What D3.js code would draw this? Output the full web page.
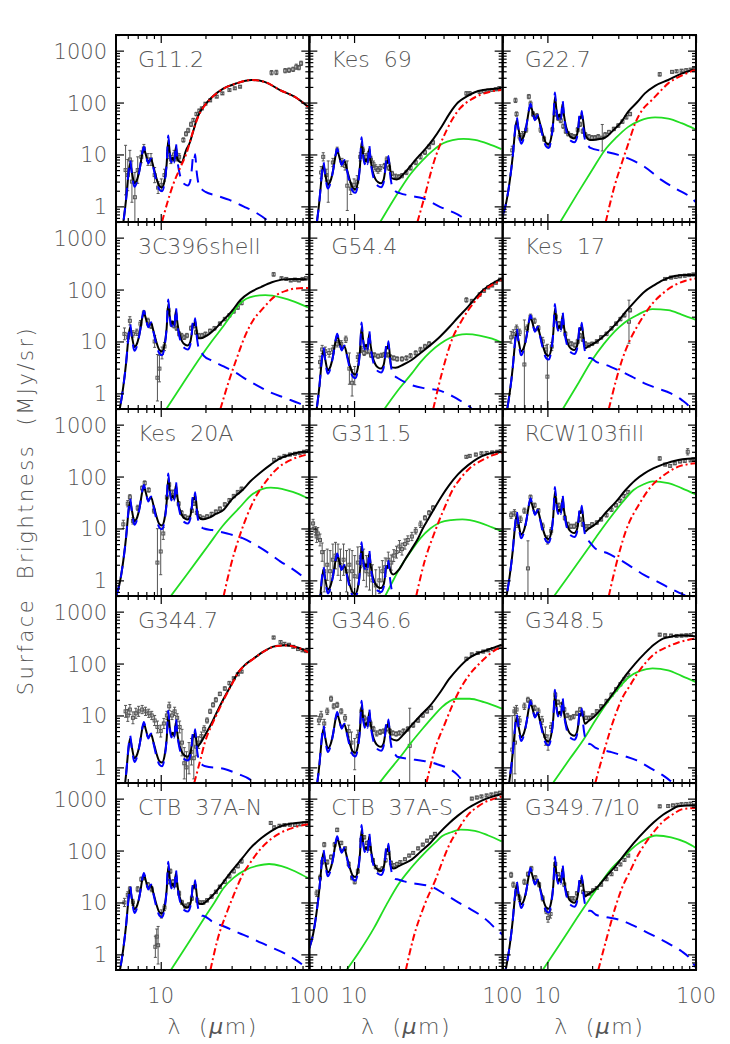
<!DOCTYPE html>
<meta charset="utf-8">
<script src="https://d3js.org/d3.v7.min.js"></script>
<style>
  body { margin: 0; background: #fff; }
  text { font-family: "DejaVu Sans", sans-serif; fill: #555; font-weight: 300; }
</style>
<div id="chart"></div>
<script>
// panel names, row by row
const panelNames = ["G11.2", "Kes  69", "G22.7", "3C396shell", "G54.4", "Kes  17",
  "Kes  20A", "G311.5", "RCW103fill", "G344.7", "G346.6", "G348.5",
  "CTB  37A-N", "CTB  37A-S", "G349.7/10"];

// shared PAH feature shape (relative to the 7.7 um peak)
const pahLam = [5.0, 5.3, 5.6, 5.85, 6.05, 6.22, 6.4, 6.65, 6.95, 7.25, 7.5, 7.7, 7.95, 8.25, 8.6, 8.95,
  9.35, 9.8, 10.2, 10.6, 10.95, 11.25, 11.5, 11.8, 12.05, 12.35, 12.65, 12.95, 13.35, 13.9, 14.5,
  15.2, 15.8, 16.2, 16.45, 16.75, 17.05, 17.4, 17.8, 18.3, 19.0];
// blue component
const pahRel = [0.007, 0.013, 0.035, 0.10, 0.30, 0.55, 0.30, 0.17, 0.22, 0.40, 0.75, 1.00, 0.70, 0.48, 0.60, 0.38,
  0.22, 0.15, 0.14, 0.20, 0.45, 1.65, 0.75, 0.50, 0.62, 0.50, 1.15, 0.55, 0.32, 0.22, 0.19,
  0.18, 0.22, 0.38, 0.60, 0.52, 0.72, 0.36, 0.22, 0.17, 0.15];
// total model over the same features (slightly flatter: lower peaks, higher troughs)
const pahTot = [0.007, 0.013, 0.035, 0.10, 0.28, 0.48, 0.32, 0.20, 0.24, 0.40, 0.72, 0.92, 0.70, 0.50, 0.58, 0.40,
  0.25, 0.175, 0.165, 0.22, 0.45, 1.35, 0.78, 0.55, 0.62, 0.53, 1.00, 0.58, 0.36, 0.26, 0.225,
  0.215, 0.25, 0.38, 0.56, 0.52, 0.64, 0.38, 0.26, 0.21, 0.19];

// 7.7 um peak level of each panel (MJy/sr)
const pahScale = [14, 13, 95, 39, 14, 32, 69, 3.3, 38, 7.5, 11.6, 19, 37, 188, 46];
// where the total model leaves the PAH shape (um)
const blackCut = [13.3, 17.2, 17.2, 17.2, 17.2, 17.2, 17.2, 17.1, 17.2, 17.2, 17.2, 17.2, 17.2, 17.2, 17.2];

// total model (black) beyond the cut: [lambda, value]
const blackTail = [
  [[13.8,7],[14.8,12],[15.7,17],[16.6,29],[17.4,46],[18.5,68],[19.8,89],[22,125],[26.5,187],[32,232],[40.9,272],[50,250],[63.5,174],[80,128],[98,83]],
  [[17.9,3.5],[19.4,3.3],[22,4.5],[26.4,8.4],[30,12.5],[34.2,20],[39,35],[44,62],[50,100],[57,130],[65,158],[74,174],[85,183],[98,187]],
  [[17.9,25],[18.7,20],[19.3,19],[21.5,19.5],[24.4,21],[28,30],[31,40],[35,67],[40,100],[45.3,150],[53,210],[65,272],[80,360],[98,437]],
  [[17.8,11.5],[18.6,11.5],[20,12.5],[23,17],[26.5,26],[30,38],[34.4,63],[40,88],[47.6,113],[56,138],[67.6,157],[80,160],[96,157]],
  [[17.8,3.2],[19,3.1],[21.5,3.6],[24.4,4.4],[28,6],[32.6,8.5],[38,12.5],[43.8,19],[50,29],[58.6,47],[66,70],[74,98],[85,130],[98.6,164]],
  [[17.9,7.4],[18.8,8],[21,9.5],[25,14.3],[29,22],[33.6,37],[39,60],[45,91],[52,120],[60,152],[72,182],[85,190],[100,190]],
  [[17.8,17],[19.2,15],[21,16],[23.5,19],[26.5,23],[30,36],[35.5,55],[40,80],[47.6,124],[55,170],[63.6,224],[75,265],[85,290],[98,302]],
  [[17.6,1.5],[18.3,1.3],[20,1.6],[22,2.5],[24.4,4],[27,6.5],[29,10],[31.5,15],[34.6,24],[38.5,40],[43.8,69],[50,110],[58.6,166],[68,225],[78.4,268],[88,292],[98.6,302]],
  [[17.9,8.7],[18.8,9.8],[21,12],[25,21],[29,33],[33.6,55],[39,85],[45,115],[52,145],[60,172],[76,209],[88,220],[100,224]],
  [[17.6,2.5],[18.6,3.0],[19.8,4.1],[22.2,7.5],[24,12],[26.5,21],[30,40],[33.4,69],[37,95],[42,124],[50,175],[56.5,209],[64,222],[71,224],[80,210],[90,188],[98,166]],
  [[17.7,3.6],[19.3,3.3],[21.5,4.3],[24.4,6.5],[28,10],[32.6,15.6],[38,28],[43.8,51],[50,80],[58.6,124],[68,158],[78,180],[88,205],[98.6,231]],
  [[17.9,6.9],[18.6,7.5],[21,10],[25,18],[29,32],[33.6,59],[39,100],[45,155],[52,230],[60,302],[68,330],[76,347],[88,345],[100,331]],
  [[17.8,9.8],[18.8,9.3],[21,11.5],[23.5,16],[26.5,25],[30,40],[35.5,72],[40,110],[47.6,174],[55,235],[63.6,293],[75,330],[85,345],[98,355]],
  [[17.7,49],[18.4,45],[20,50],[22,57],[24.4,67],[28,95],[32.6,140],[37,210],[43.8,340],[50,470],[58.6,660],[68,840],[78,1000],[88,1120],[98.6,1230]],
  [[17.9,13],[18.6,14],[21,18],[25,32],[29,52],[33.6,89],[39,150],[45,234],[52,350],[60,490],[68,610],[76,710],[88,740],[100,740]]
];

// small-grain / PAH continuum (blue dashed) beyond 19 um
const blueTail = [
  [[20,1.9],[24,1.6],[29,1.33],[36,1.0],[44,0.75],[51.6,0.55],[56,0.45]],
  [[20.3,1.8],[24,1.6],[29,1.43],[37.8,0.98],[45,0.8],[52.8,0.63],[60,0.45]],
  [[19.3,13.5],[24,11.5],[30,9.8],[35,8.4],[45,5.8],[58.8,3.2],[75,2.1],[91,1.53],[100,1.2]],
  [[19.5,5.3],[22,4.3],[26.5,3.3],[32,2.5],[37.6,1.86],[45,1.4],[53.6,1.07],[70,0.8],[85.6,0.64],[95,0.55]],
  [[19.5,2.0],[24.4,1.44],[30,1.25],[36.6,1.16],[42,1.0],[48.9,0.8],[55,0.65],[60,0.55],[64,0.45]],
  [[19.5,4.8],[21.2,4.1],[25,3.5],[30,2.8],[37,2.1],[45,1.56],[55,1.25],[67.7,1.0],[80,0.75],[90.5,0.55],[95,0.45]],
  [[19.5,10],[22.2,9.3],[28,8],[35.5,6.5],[44,4.7],[53.6,3.3],[64,2.3],[76,1.7],[88,1.25],[96,1.0]],
  [[20,0.45]],
  [[21,4.1],[25,3.4],[30,2.6],[37,1.8],[45,1.26],[55,0.95],[64,0.75],[75,0.6],[86,0.5],[95,0.42]],
  [[20,1.05],[26.5,0.94],[33,0.75],[40,0.58],[44,0.45]],
  [[19.5,1.6],[23,1.47],[28,1.35],[32.6,1.26],[38,1.1],[43.8,0.94],[50,0.7],[55,0.5],[58,0.42]],
  [[19.5,2.8],[21,2.4],[26.4,2.0],[33,1.65],[40,1.36],[50,0.95],[60,0.7],[67,0.55],[72,0.45]],
  [[19.5,5.5],[22.2,4.3],[27,3.4],[33.4,2.6],[40,2.1],[47.6,1.66],[56,1.35],[67.7,1.06],[80,0.8],[90,0.63],[98,0.52]],
  [[19.5,28],[21.7,25.5],[26,23],[32.6,20.5],[40,15],[49,10.5],[58,8],[70,5.8],[80,4.3],[91,3],[100,2.4]],
  [[19.5,6.9],[21.2,5.8],[25,5.2],[30,4.7],[37,3.7],[45,2.8],[55,2.1],[67.7,1.53],[80,1.15],[90.5,0.85],[100,0.55]]
];

// warm dust (green)
const greenPts = [
  null,
  [[15,0.5],[20.3,2.07],[24,4.2],[29,7.8],[34,12],[39.8,16.4],[46,18.8],[54.5,20],[65,19],[80,16],[98,12.7]],
  [[12.2,0.5],[16,1.8],[20,5],[24.4,12.2],[29,21],[35,34],[42,45],[53,52],[65,49],[80,40],[99,30.5]],
  [[10.9,0.5],[14,1.5],[18.6,5.1],[22,10],[26.5,20],[30,33],[34.4,55],[42,74],[50.5,78],[65,70],[80,58],[98,45]],
  [[16,0.5],[20,1.2],[24.4,2.4],[28,4],[32.6,6.3],[38,9],[43.8,11.5],[57,13.8],[70,13],[85,11.3],[98.6,9.5]],
  [[12.7,0.5],[16,1.5],[20,4.4],[24,9],[28.3,15.5],[33,23],[40,32],[51,42],[65,40],[80,33],[100,26]],
  [[11.7,0.5],[15,1.3],[21,4.8],[26,11],[33.4,24],[42,47],[55,61],[70,55],[85,46],[98,38]],
  [[16.2,0.5],[18,0.9],[20.5,1.8],[24.4,3.8],[28,6.5],[32.6,10],[38,13],[45,14.5],[53.6,15],[70,13],[85,10.5],[98.6,8.9]],
  [[11.1,0.5],[14,1.26],[18.8,4.1],[22,7.8],[26.7,16.6],[32,32],[38,55],[45,72],[51,81],[65,75],[80,60],[100,45]],
  null,
  [[14.8,0.5],[17,0.83],[20.5,1.6],[24,2.9],[29,5.6],[34,9.5],[39,14.5],[48.9,21],[60,21],[75,18],[98.6,13.5]],
  [[10.9,0.5],[14,1.4],[17.7,3.6],[21,8],[26.4,21],[30,33],[35.5,55],[42,72],[51,81],[65,74],[80,58],[100,44]],
  [[11.7,0.5],[15,1.5],[19.8,5.2],[23,10],[26.5,19],[31,30],[37.6,43],[45,51],[53.6,55],[65,50],[80,40],[98,29.5]],
  [[8.9,0.5],[11,1.2],[13.6,3.2],[16.5,9],[19.8,22],[24,45],[29.8,89],[35,140],[39,188],[45,225],[52,252],[65,240],[80,195],[98.6,150]],
  [[9.3,0.5],[12,1.5],[15.8,5],[19,11],[22.4,22],[27,45],[33.6,83],[40,130],[45,162],[54,195],[68,180],[85,145],[100,112]]
];

// cold dust (red dash-dot)
const redPts = [
  [[10.2,0.5],[11,1.1],[12.2,2.77],[13.5,5.5],[14.9,10.5],[16.6,29.5],[17.4,44],[18.5,66],[19.8,88],[22,124],[26.5,186],[32,231],[40.9,272],[50,250],[63.5,174],[80,128],[98,83]],
  [[26.7,0.5],[29.6,1.43],[34.2,6.7],[42,29.5],[51.6,77],[60,110],[70.4,140],[85,165],[98,174]],
  [[24.7,0.5],[28,2.2],[31.6,6.7],[35,16],[39,40],[44,75],[50.5,112],[58,170],[65,234],[80,330],[98,424]],
  [[25.2,0.5],[28.9,1.8],[31.6,3.8],[37.6,14.3],[42,26],[47.6,40],[60,78],[70,95],[80.5,105],[98,107]],
  [[34.1,0.5],[38.9,2.4],[46.4,12.3],[52,23],[58.6,40],[66,62],[78,105],[88,130],[98.6,152]],
  [[25.9,0.5],[29,1.8],[31.8,4.4],[35,9],[40,19],[45,33],[51,54],[60,85],[72,122],[85,148],[100,164]],
  [[26.5,0.5],[29.7,2.0],[34.4,8],[42,33],[53,92],[62,150],[71,193],[85,240],[98,268]],
  [[26.2,0.5],[29.8,2.3],[34.6,8],[41.3,28],[46,55],[52,92],[60,145],[69.8,193],[85,255],[98.6,290]],
  [[25.9,0.5],[29,2.0],[33.6,8.7],[42.5,33],[50,65],[57,92],[66,125],[76,155],[88,172],[100,180]],
  [[16.8,0.5],[18.6,1.5],[19.8,3],[21,4.8],[22.2,6.8],[24,11],[26.5,20],[30,39],[33.4,68],[37,94],[42,123],[50,174],[56.5,208],[64,221],[71,223],[80,209],[90,187],[98,165]],
  [[30.7,0.5],[34.6,2],[41.3,7.5],[46,16],[52,33],[60,62],[69.8,100],[80,145],[90,185],[98.6,209]],
  [[21,0.5],[24,2],[28.6,10],[32,22],[36,38],[40,62],[45.2,99],[52,150],[64,209],[76,255],[88,285],[100,302]],
  [[21.6,0.5],[24.2,2],[28,6.7],[31,14],[35.5,34],[40,58],[47.6,112],[55,165],[63.6,218],[75,265],[85,295],[98,317]],
  [[22.3,0.5],[25,2],[29.8,9],[35.7,29.5],[40,70],[43.8,130],[50,250],[58.6,490],[68,700],[78,890],[88,1000],[98.6,1100]],
  [[22,0.5],[25,2],[29,9],[32,20],[36,40],[40,75],[45,130],[52,230],[60,363],[70,500],[80,620],[90,650],[100,660]]
];

// observed spectra: [lambda, value, error factor] (bar runs value/err .. value*err)
const obsData = [
  [[5.8,5,3],[6.0,4,2],[6.2,8,1.5],[6.4,3,2.5],[6.7,1.5,3],[7.0,5,1.8],[7.4,9,1.3],[7.7,13,1.2],[8.2,8,1.3],[8.6,8,1.3],[9.1,4,1.4],[9.6,2.3,1.3],[10.1,2.6,1.3],[10.6,4,1.3],[11.2,10,1.2],[11.7,8,1.2],[12.3,10,1.2],[12.8,9,1.2],[13.3,9,1.15],[14.2,19,1.1],[14.8,25,1.1],[15.3,29,1.1],[16.0,38,1.1],[16.6,46,1.08],[17.4,60,1.08],[18.2,70,1.06],[18.9,77,1.06],[20,95,1.05],[21.5,110,1.05],[23.8,130,1.05],[26,150,1.05],[29,174,1.05],[31.5,188,1.05],[34.2,202,1.05],[55.7,376,1.1],[60,380,1.1],[68.8,411,1.1],[73,420,1.1],[77.8,436,1.1],[81.7,490,1.12],[85,470,1.1],[88,569,1.1]],
  [[6.0,4.5,1.3],[6.2,9,1.2],[6.5,4,1.3],[6.7,3,2.5],[7.2,7,1.2],[7.7,12,1.15],[8.3,7,1.2],[8.7,6,1.2],[9.0,2.5,3],[9.5,2.2,1.3],[10,2.6,1.3],[10.5,3,1.3],[11,9,1.2],[11.5,12,1.15],[12,9,1.15],[12.5,10,1.15],[13,8,1.15],[13.5,6.5,1.15],[14,5.5,1.15],[14.5,5,1.15],[15,5.5,1.15],[16,6,1.12],[16.6,8,1.12],[17.2,5.5,1.12],[18,4.3,1.1],[19,3.8,1.1],[20,3.7,1.1],[21,3.9,1.1],[22.5,4.5,1.1],[24,5.5,1.1],[26,7,1.1],[28,9,1.1],[30,11,1.1],[32,14,1.1],[34,17,1.1],[57,150,1.08],[60,150,1.08],[70,160,1.06],[75,165,1.06],[80,170,1.06],[85,175,1.06],[90,180,1.06],[95,190,1.06]],
  [[5.8,12,1.2],[6.1,110,1.1],[6.2,60,1.1],[6.5,22,1.15],[6.8,24,1.15],[7.2,30,1.12],[7.5,130,1.1],[7.7,95,1.12],[8.0,60,1.12],[8.5,55,1.12],[9.0,30,1.12],[9.5,20,1.12],[10.2,15,1.1],[10.8,30,1.1],[11.3,60,1.1],[11.8,50,1.1],[12.3,45,1.1],[12.8,35,1.1],[13.3,28,1.1],[13.8,25,1.1],[14.5,23,1.1],[15.2,22,1.1],[16,30,1.1],[16.6,38,1.1],[17.3,28,1.1],[18,24,1.1],[19,22,1.1],[20,21,1.1],[21,21,1.1],[22,22,1.1],[23.4,21,1.8],[24.5,24,1.1],[26,27,1.08],[28,31,1.08],[30,36,1.08],[32,43,1.08],[34,52,1.08],[36,60,1.08],[57,350,1.08],[69,390,1.06],[74,400,1.06],[80,410,1.06],[86,420,1.06],[92,430,1.06],[97,440,1.08]],
  [[5.7,14,1.3],[6.0,12,1.2],[6.2,25,1.2],[6.5,14,1.15],[6.9,15,1.15],[7.3,22,1.15],[7.7,35,1.12],[8.2,25,1.12],[8.6,20,1.12],[9.1,10,1.3],[9.5,2,2.8],[9.8,3,1.8],[10.2,6,1.3],[10.6,8,1.2],[11.3,40,1.12],[11.8,22,1.12],[12.3,20,1.1],[12.8,18,1.1],[13.3,14,1.1],[13.8,13,1.1],[14.4,12,1.1],[15,13,1.1],[16,18,1.1],[16.7,20,1.1],[17.3,15,1.1],[18,13,1.1],[19,13,1.1],[20,14,1.08],[21.5,16,1.08],[23,18,1.08],[25,22,1.08],[27,27,1.08],[29,32,1.08],[31,38,1.08],[33,45,1.08],[35,55,1.08],[57.5,196,1.08],[65,165,1.06],[70,160,1.06],[75,150,1.06],[80,155,1.06],[85,150,1.06],[90,160,1.06],[95,165,1.08]],
  [[5.9,4,1.3],[6.1,7,1.2],[6.4,6.5,1.2],[6.8,6,1.2],[7.2,7,1.2],[7.7,9,1.15],[8.2,9,1.15],[8.8,11,1.15],[9.3,3,2],[9.7,1.6,1.8],[10.1,2.2,1.5],[10.6,5,1.2],[11.2,7,1.15],[11.7,6,1.12],[12.3,6.5,1.12],[13,5.5,1.12],[13.7,5.5,1.1],[14.5,5.2,1.1],[15.3,5.4,1.1],[16,5.6,1.1],[16.8,5.5,1.1],[17.6,5,1.1],[18.5,4.8,1.1],[19.5,4.6,1.1],[21,4.6,1.1],[22.5,4.8,1.1],[24,5.3,1.1],[26,6,1.1],[28,7,1.1],[30,8,1.1],[32,9,1.1],[57,63,1.1],[62,60,1.08],[70,80,1.08],[75,95,1.08],[80,110,1.06],[85,120,1.06],[90,135,1.06],[96,155,1.06]],
  [[5.7,12,1.3],[5.9,14,1.2],[6.2,18,1.15],[6.5,15,1.15],[7.0,3.6,7.2],[7.3,18,1.15],[7.7,30,1.12],[8.2,25,1.12],[8.7,18,1.12],[9.3,10,1.2],[9.8,7,1.2],[10.0,2.1,4.2],[10.7,8,1.2],[11.4,30,1.12],[12,22,1.1],[12.6,20,1.1],[13.2,14,1.1],[13.8,10,1.1],[14.5,9,1.1],[15.3,8.5,1.1],[16,10,1.1],[16.6,13,1.1],[17.3,11,1.1],[18,9,1.1],[19,8.5,1.1],[20,9,1.08],[21.5,10,1.08],[23,12,1.08],[25,14,1.08],[27,18,1.08],[29,22,1.08],[31,27,1.08],[33,32,1.08],[35.4,24,2.6],[36,40,1.08],[62,160,1.06],[68,170,1.06],[73,175,1.06],[78,180,1.06],[84,185,1.06],[90,190,1.06],[96,195,1.06]],
  [[5.6,12,1.2],[6.0,30,1.15],[6.2,40,1.12],[6.5,14,1.15],[7.0,25,1.12],[7.5,60,1.1],[7.8,75,1.1],[8.3,55,1.1],[9.0,22,1.12],[9.5,2.2,4.5],[10.0,3.6,2.8],[10.4,8,1.3],[11,40,1.1],[11.4,70,1.1],[12,50,1.1],[12.7,45,1.1],[13.2,30,1.1],[13.8,20,1.1],[14.5,17,1.08],[15.3,16,1.08],[16.2,22,1.08],[16.8,30,1.08],[17.5,20,1.08],[18.3,17,1.08],[19.2,16,1.08],[20.5,17,1.08],[22,19,1.08],[23.5,21,1.08],[25,24,1.08],[27,29,1.08],[29,35,1.08],[31,42,1.08],[33,50,1.08],[35,58,1.08],[58,210,1.06],[63,230,1.06],[68,250,1.06],[74,265,1.06],[80,275,1.06],[86,285,1.06],[92,300,1.06],[97,310,1.06]],
  [[5.3,12.5,1.2],[5.5,9,1.2],[5.6,7,1.3],[5.7,8,1.3],[5.9,6,1.3],[6.1,3.5,1.5],[6.3,1.5,2.5],[6.6,2,2],[6.9,1.5,2.5],[7.2,2.5,2],[7.5,3,1.8],[7.8,2.5,2],[8.1,2,2],[8.5,2.5,2],[8.9,1.5,2.5],[9.3,2,2],[9.7,1.5,2.5],[10.1,1.2,2.5],[10.6,2.2,2],[11.1,2.8,1.6],[11.6,2,2],[12.1,1.5,2],[12.7,1.3,2],[13.3,1.0,2],[14,0.8,2],[14.8,1.0,1.8],[15.5,1.5,1.6],[16.2,1.8,1.5],[17,2.5,1.4],[17.8,2.2,1.4],[18.5,3,1.3],[19.3,3.5,1.3],[20.2,4.5,1.3],[21,4,1.3],[22,5,1.25],[23,6,1.2],[24.5,7,1.2],[26,9,1.15],[28,12,1.15],[30,16,1.1],[32,20,1.1],[34,25,1.1],[57,240,1.06],[60,250,1.06],[66,265,1.06],[72,280,1.06],[78,285,1.06],[85,290,1.06],[92,300,1.06],[97,310,1.06]],
  [[5.7,18,1.15],[6.0,20,1.15],[6.3,12,1.15],[6.6,15,1.15],[7.0,22,1.12],[7.4,1.7,3.4],[7.7,40,1.1],[8.2,28,1.1],[8.7,22,1.1],[9.3,11,1.15],[10,6,1.2],[10.6,9,1.15],[11.3,35,1.1],[11.9,28,1.1],[12.5,25,1.1],[13.1,16,1.1],[13.7,12,1.1],[14.4,11,1.1],[15.1,11,1.1],[15.8,12,1.1],[16.6,15,1.1],[17.3,12,1.1],[18,11,1.08],[19,11,1.08],[20,12,1.08],[21.5,13,1.08],[23,15,1.08],[25,18,1.08],[27,23,1.08],[29,28,1.08],[31,34,1.08],[33,42,1.08],[35,50,1.08],[57,223,1.08],[62,170,1.06],[67,160,1.06],[72,180,1.06],[78,195,1.06],[84,200,1.06],[88,300,1.15],[92,205,1.06],[96,215,1.06]],
  [[5.8,12,1.3],[6.0,10,1.3],[6.2,13,1.25],[6.5,9,1.3],[6.8,11,1.25],[7.1,12,1.25],[7.5,13,1.2],[7.9,12,1.2],[8.3,11,1.2],[8.7,10,1.2],[9.1,8,1.25],[9.5,6,1.3],[10,5,1.3],[10.5,7,1.25],[11,10,1.2],[11.4,15,1.2],[11.9,10,1.2],[12.4,12,1.2],[12.9,9,1.2],[13.4,6,1.3],[13.9,3,1.8],[14.4,1.2,2],[14.9,1.0,2],[15.5,1.5,2],[16.1,2,1.8],[16.7,1.5,2.5],[17.3,2.5,1.5],[18,3,1.3],[18.8,4,1.2],[19.6,5.5,1.15],[20.5,8,1.12],[21.5,12,1.1],[22.5,16,1.1],[23.5,20,1.1],[25,26,1.08],[27,33,1.08],[29,42,1.08],[31,52,1.06],[33,62,1.06],[35,70,1.06],[57.5,317,1.06],[64,260,1.06],[68,240,1.06],[73,230,1.06],[78,210,1.06],[84,190,1.06],[90,180,1.06],[95,175,1.08]],
  [[5.8,8,1.2],[6.0,10,1.2],[6.3,7,1.2],[6.6,12,1.15],[7.0,21,1.12],[7.3,15,1.12],[7.7,16,1.12],[8.2,12,1.12],[8.7,9,1.15],[9.2,5,1.3],[9.6,3,1.6],[10.1,1.8,2],[10.6,4,1.3],[11.2,12,1.15],[11.7,9,1.12],[12.3,8,1.12],[12.9,7,1.12],[13.5,5.5,1.12],[14.2,4.5,1.12],[15,4.8,1.12],[15.8,5,1.1],[16.6,5.5,1.1],[17.4,5,1.1],[18.2,4.6,1.1],[19.2,4.4,1.1],[20.2,4.6,1.1],[21.5,5,1.1],[23,5.5,1.1],[23.7,2.6,5.3],[25,6.5,1.1],[27,8,1.08],[29,10,1.08],[31,12,1.08],[33,14,1.08],[57,124,1.06],[62,150,1.06],[68,160,1.06],[74,170,1.06],[80,180,1.06],[86,190,1.06],[92,200,1.06],[97,210,1.06]],
  [[5.8,2.2,4.5],[6.05,3,4],[6.0,12,1.2],[6.2,13,1.2],[6.5,8,1.2],[7.0,15,1.15],[7.4,20,1.12],[7.7,18,1.12],[8.2,14,1.12],[8.7,12,1.15],[9.2,8,1.2],[9.7,4,1.5],[10.1,3,1.4],[10.6,6,1.2],[11.3,25,1.1],[11.8,18,1.1],[12.4,16,1.1],[13,13,1.1],[13.6,10,1.1],[14.3,9,1.1],[15,9.5,1.1],[15.8,11,1.1],[16.6,13,1.1],[17.4,11,1.1],[18.2,9,1.08],[19.2,9,1.08],[20.2,10,1.08],[21.5,12,1.08],[23,15,1.08],[25,19,1.08],[27,25,1.08],[29,32,1.08],[31,40,1.08],[33,50,1.08],[35,60,1.08],[57,360,1.06],[62,350,1.06],[68,345,1.06],[74,340,1.06],[80,345,1.06],[86,350,1.06],[92,355,1.06]],
  [[5.7,10,1.2],[6.0,14,1.15],[6.2,18,1.12],[6.5,10,1.15],[7.0,18,1.12],[7.4,28,1.1],[7.7,30,1.1],[8.2,22,1.1],[8.7,18,1.12],[9.2,1.4,1.6],[9.4,2.2,1.4],[9.6,1.5,2.3],[10.1,6,1.2],[10.6,8,1.15],[11.2,25,1.1],[11.6,40,1.1],[12.1,25,1.1],[12.7,22,1.1],[13.3,15,1.1],[13.9,10,1.1],[14.6,8.5,1.1],[15.4,9,1.1],[16.2,12,1.1],[17,20,1.1],[17.6,11,1.1],[18.4,10,1.08],[19.4,10,1.08],[20.5,11,1.08],[22,13,1.08],[23.5,16,1.08],[25,20,1.08],[27,25,1.08],[29,32,1.08],[31,40,1.08],[33,50,1.08],[35,62,1.08],[55,340,1.06],[58,280,1.06],[63,300,1.06],[68,310,1.06],[74,315,1.06],[80,310,1.06],[86,320,1.06],[92,330,1.06],[97,340,1.06]],
  [[5.6,15,1.15],[5.9,30,1.12],[6.1,60,1.1],[6.3,130,1.1],[6.6,60,1.1],[7.0,75,1.1],[7.4,130,1.1],[7.7,250,1.08],[8.2,140,1.08],[8.7,110,1.08],[9.2,55,1.1],[9.7,30,1.1],[10.1,25,1.1],[10.6,40,1.1],[11.2,160,1.08],[11.7,180,1.08],[12.2,140,1.08],[12.8,110,1.08],[13.4,65,1.08],[14,48,1.08],[14.7,42,1.08],[15.5,45,1.08],[16.3,65,1.08],[17,90,1.08],[17.7,58,1.08],[18.5,52,1.08],[19.5,55,1.08],[20.5,60,1.06],[22,68,1.06],[23.5,80,1.06],[25,90,1.06],[27,110,1.06],[29,130,1.06],[31,155,1.06],[33,180,1.06],[35,210,1.06],[62,1000,1.06],[67,1050,1.06],[72,1100,1.06],[78,1150,1.06],[84,1200,1.06],[90,1250,1.06],[96,1300,1.06]],
  [[5.7,34,1.12],[5.9,22,1.12],[6.2,15,1.12],[6.5,12,1.15],[7.0,25,1.12],[7.4,35,1.1],[7.8,45,1.1],[8.3,30,1.1],[8.8,22,1.1],[9.3,12,1.12],[9.8,7,1.15],[10.1,5,1.2],[10.5,6,1.2],[11.3,55,1.08],[11.8,35,1.08],[12.4,30,1.08],[13,22,1.08],[13.6,15,1.08],[14.3,12,1.08],[15,12,1.08],[15.8,15,1.08],[16.6,22,1.08],[17.4,16,1.08],[18.2,15,1.08],[19.2,15,1.08],[20.3,17,1.08],[21.5,19,1.06],[23,22,1.06],[25,28,1.06],[27,35,1.06],[29,44,1.06],[31,54,1.06],[33,66,1.06],[35,80,1.06],[57,710,1.06],[65,720,1.06],[70,740,1.06],[75,760,1.06],[80,780,1.06],[86,790,1.06],[92,800,1.06]]
];

// axis ticks
const majorX = [10, 100];
const minorX = [6, 7, 8, 9, 20, 30, 40, 50, 60, 70, 80, 90];
const majorY = [1, 10, 100, 1000];
const minorY = [0.6, 0.7, 0.8, 0.9, 2, 3, 4, 5, 6, 7, 8, 9, 20, 30, 40, 50, 60, 70, 80, 90,
  200, 300, 400, 500, 600, 700, 800, 900, 2000];

const W = 730, H = 1044;
const left = 116, top0 = 35;
const pw = 193.33, ph = 187;

const svg = d3.select("#chart").append("svg")
    .attr("width", W)
    .attr("height", H);

const x = d3.scaleLog().domain([5, 100]).range([0, pw]);
const y = d3.scaleLog().domain([0.5, 2000]).range([ph, 0]);

const line = d3.line()
    .x(d => x(d[0]))
    .y(d => y(d[1]))
    .curve(d3.curveMonotoneX);

function tickAxis(g, axis, vals, len, tr) {
    g.append("g")
        .attr("transform", tr)
        .call(axis.tickValues(vals).tickSize(-len).tickFormat(""))
        .call(s => s.select(".domain").remove())
        .call(s => s.selectAll("line").attr("stroke-width", 1.2));
}

panelNames.forEach(function (name, i) {
    var col = i % 3, row = Math.floor(i / 3);
    var g = svg.append("g")
        .attr("transform", "translate(" + (left + col * pw) + "," + (top0 + row * ph) + ")");

    svg.append("clipPath").attr("id", "clip" + i)
        .append("rect").attr("width", pw).attr("height", ph);
    var plot = g.append("g").attr("clip-path", "url(#clip" + i + ")");

    // observed points with error bars
    var obs = plot.append("g").attr("stroke", "#555").attr("fill", "none").attr("stroke-width", 1);
    obs.selectAll(".bar").data(obsData[i]).join("line")
        .attr("x1", d => x(d[0])).attr("x2", d => x(d[0]))
        .attr("y1", d => y(d[1] / d[2])).attr("y2", d => y(d[1] * d[2]));
    obs.selectAll(".capT").data(obsData[i]).join("line")
        .attr("x1", d => x(d[0]) - 1.5).attr("x2", d => x(d[0]) + 1.5)
        .attr("y1", d => y(d[1] * d[2])).attr("y2", d => y(d[1] * d[2]));
    obs.selectAll(".capB").data(obsData[i]).join("line")
        .attr("x1", d => x(d[0]) - 1.5).attr("x2", d => x(d[0]) + 1.5)
        .attr("y1", d => y(d[1] / d[2])).attr("y2", d => y(d[1] / d[2]));
    obs.selectAll("rect").data(obsData[i]).join("rect")
        .attr("x", d => x(d[0]) - 1.5).attr("y", d => y(d[1]) - 1.5)
        .attr("width", 3).attr("height", 3);

    // PAH shapes scaled for this panel
    var blue = pahLam.map((l, k) => [l, pahRel[k] * pahScale[i]]).concat(blueTail[i]);
    var black = pahLam.map((l, k) => [l, pahTot[k] * pahScale[i]])
        .filter(d => d[0] <= blackCut[i]).concat(blackTail[i]);

    if (greenPts[i]) {
        plot.append("path").attr("d", line(greenPts[i]))
            .attr("fill", "none").attr("stroke", "#22dd22").attr("stroke-width", 1.8);
    }
    plot.append("path").attr("d", line(black))
        .attr("fill", "none").attr("stroke", "#000").attr("stroke-width", 2);
    plot.append("path").attr("d", line(blue))
        .attr("fill", "none").attr("stroke", "#0000ff").attr("stroke-width", 2)
        .attr("stroke-dasharray", "12,8");
    plot.append("path").attr("d", line(redPts[i]))
        .attr("fill", "none").attr("stroke", "#ff0000").attr("stroke-width", 2)
        .attr("stroke-dasharray", "7,3,2,3");

    // ticks on all four sides, pointing inward
    tickAxis(g, d3.axisBottom(x), minorX, 4, "translate(0," + ph + ")");
    tickAxis(g, d3.axisBottom(x), majorX, 8, "translate(0," + ph + ")");
    tickAxis(g, d3.axisTop(x), minorX, 4, "translate(0,0)");
    tickAxis(g, d3.axisTop(x), majorX, 8, "translate(0,0)");
    tickAxis(g, d3.axisLeft(y), minorY, 4, "translate(0,0)");
    tickAxis(g, d3.axisLeft(y), majorY, 8, "translate(0,0)");
    tickAxis(g, d3.axisRight(y), minorY, 4, "translate(" + pw + ",0)");
    tickAxis(g, d3.axisRight(y), majorY, 8, "translate(" + pw + ",0)");

    g.append("rect").attr("width", pw).attr("height", ph)
        .attr("fill", "none").attr("stroke", "#000").attr("stroke-width", 2);

    g.append("text")
        .attr("x", 22).attr("y", 32)
        .style("font-size", "22px").style("white-space", "pre")
        .text(name);

    if (col === 0) {
        g.selectAll(".ylab").data(majorY).join("text")
            .attr("x", -9).attr("y", d => y(d) + 8)
            .attr("text-anchor", "end")
            .style("font-size", "21px")
            .text(d => d);
    }
    if (row === 4) {
        g.selectAll(".xlab").data(majorX).join("text")
            .attr("x", d => x(d)).attr("y", ph + 33)
            .attr("text-anchor", "middle")
            .style("font-size", "21px")
            .text(d => d);
        var xl = g.append("text")
            .attr("x", pw / 2).attr("y", ph + 64)
            .attr("text-anchor", "middle")
            .style("font-size", "22px").style("letter-spacing", "1.5px").style("white-space", "pre");
        xl.append("tspan").text("\u03bb  (");
        xl.append("tspan").style("font-style", "italic").text("\u03bc");
        xl.append("tspan").text("m)");
    }
});

svg.append("text")
    .attr("transform", "translate(33," + (top0 + 2.5 * ph + 8) + ") rotate(-90)")
    .attr("text-anchor", "middle")
    .style("font-size", "21px").style("letter-spacing", "2.5px").style("white-space", "pre")
    .text("Surface  Brightness  (MJy/sr)");
</script>
